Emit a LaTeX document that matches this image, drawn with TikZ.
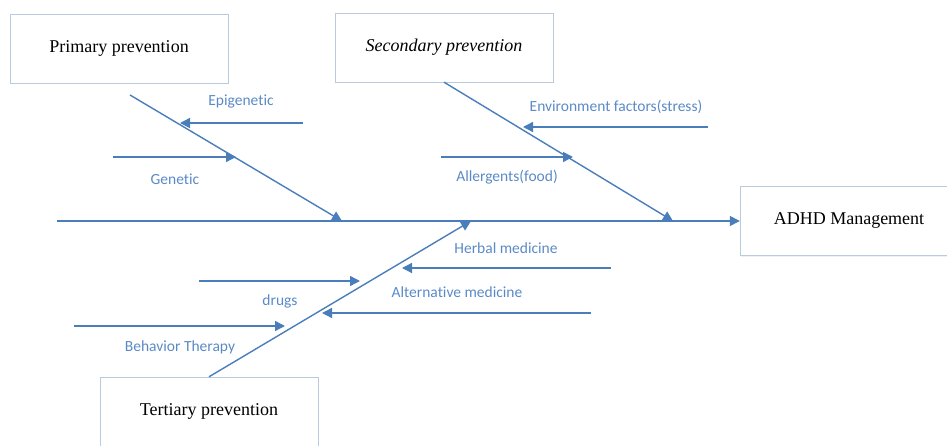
\documentclass[tikz,border=0pt]{standalone}
\usepackage{fontspec}
\setmainfont{Liberation Serif}
\newfontfamily\causefont[Ligatures=NoCommon]{Carlito}
\usetikzlibrary{arrows.meta,shadows}
\definecolor{bone}{HTML}{4A7EBB}
\definecolor{cause}{HTML}{5A8AC6}
\definecolor{frame}{HTML}{B9CBDF}

\begin{document}
\begin{tikzpicture}[x=1pt,y=-1pt,object/.style={draw=frame,fill=white,minimum width=218pt,minimum height=69pt,font=\fontsize{18}{21}\selectfont,drop shadow={shadow xshift=1pt,shadow yshift=-1.5pt,fill=frame!50}},link/.style={bone,line width=1.4pt}, arrow/.style={-{Triangle[length=10pt,width=10pt]},link},label/.style={text=cause,font=\causefont\fontsize{15.5}{18}\selectfont}]
  \useasboundingbox (0,0) rectangle (947,446);
  \node[object] (primary) at (119,48.5) {Primary prevention};
  \node[object] (secondary) at (444,47.5) {\itshape Secondary prevention};
  \node[object] (adhd) at (849,221) {ADHD Management};
  \node[object] (tertiary) at (209,411.5) {Tertiary prevention};

  \coordinate (spine tail) at (57,221);
  \coordinate (primary bone) at (130,95);
  \coordinate (primary head) at (342,221);
  \coordinate (secondary head) at (673,221);
  \coordinate (tertiary head) at (471,221);

  \draw[arrow] (spine tail) -- (adhd.west);
  \draw[arrow] (primary bone) -- (primary head);
  \draw[arrow] (secondary.south) -- (secondary head);
  \draw[arrow] (tertiary.north) -- (tertiary head);

  \coordinate (epigenetic tail) at (303,123);   \coordinate (epigenetic head) at (180,123);
  \coordinate (genetic tail) at (113,157);      \coordinate (genetic head) at (236,157);
  \coordinate (environment tail) at (708,127);  \coordinate (environment head) at (523,127);
  \coordinate (allergents tail) at (441,157);   \coordinate (allergents head) at (573,157);
  \coordinate (herbal tail) at (611,268);       \coordinate (herbal head) at (402,268);
  \coordinate (alternative tail) at (591,313);  \coordinate (alternative head) at (322,313);
  \coordinate (drugs tail) at (199,281);        \coordinate (drugs head) at (360,281);
  \coordinate (behavior tail) at (74,326);      \coordinate (behavior head) at (285,326);

  \draw[arrow] (epigenetic tail) -- (epigenetic head);
  \draw[arrow] (genetic tail) -- (genetic head);
  \draw[arrow] (environment tail) -- (environment head);
  \draw[arrow] (allergents tail) -- (allergents head);
  \draw[arrow] (herbal tail) -- (herbal head);
  \draw[arrow] (alternative tail) -- (alternative head);
  \draw[arrow] (drugs tail) -- (drugs head);
  \draw[arrow] (behavior tail) -- (behavior head);

  \node[label] (epigenetic) at (241,102) {Epigenetic};
  \node[label] (genetic) at (175,179) {Genetic};
  \node[label] (environment) at (616,107) {Environment factors(stress)};
  \node[label] (allergents) at (507,177) {Allergents(food)};
  \node[label] (herbal) at (506,248) {Herbal medicine};
  \node[label] (alternative) at (457,292) {Alternative medicine};
  \node[label] (drugs) at (280,301) {drugs};
  \node[label] (behavior) at (180,347) {Behavior Therapy};
\end{tikzpicture}
\end{document}
